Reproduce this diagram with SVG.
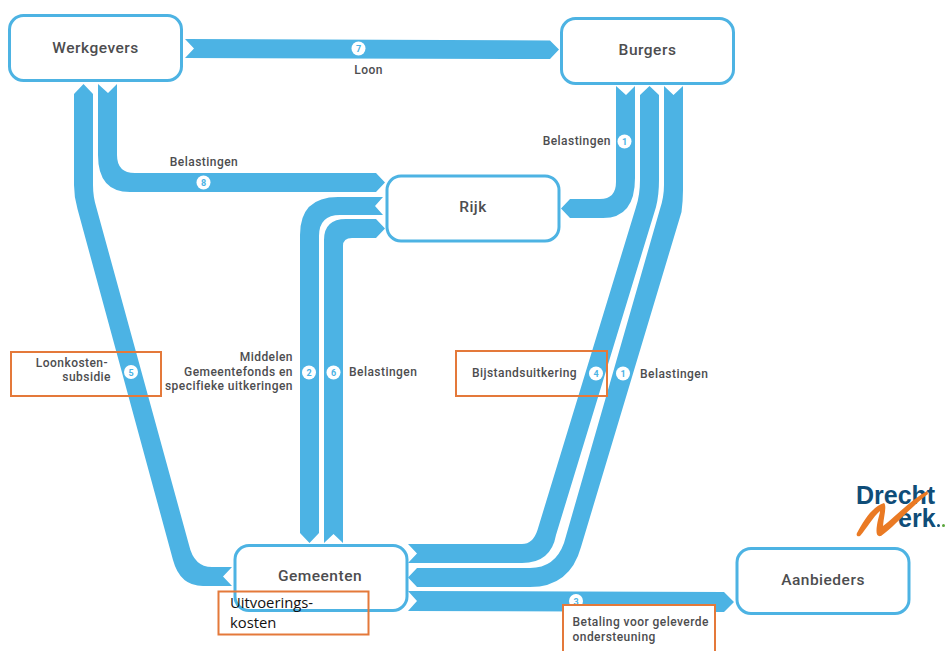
<svg xmlns="http://www.w3.org/2000/svg" width="946" height="651" viewBox="0 0 946 651">
<style>
.box{fill:#fff;stroke:#4db3e3;stroke-width:3}
.flow{fill:#4cb3e4}
.t{font-family:"Roboto","Liberation Sans",sans-serif;font-weight:500;fill:#4d4d4f}
.n{font-size:15.5px;text-anchor:middle;letter-spacing:.5px}
.l{font-size:12px;letter-spacing:.45px}
.e{text-anchor:end}
.bc{fill:#fff}
.bt{font-family:"Roboto","Liberation Sans",sans-serif;font-weight:700;font-size:9px;fill:#4cb3e4;text-anchor:middle}
.o{fill:none;stroke:#e4793a;stroke-width:2}
.lg{font-family:"Liberation Sans",sans-serif;font-weight:700;font-size:25px;fill:#0f4d78}
.u{font-family:"Open Sans","Liberation Sans",sans-serif;font-size:14.8px;fill:#111}
</style>
<rect width="946" height="651" fill="#fff"/>
<g id="connectors">
<path class="flow" d="M185 39L550 40.500L559 49.500L550 59L185 58L194 48.500Z"/>
<path class="flow" d="M98 84L108 93L117 84V155Q117 173 135 173H376L385 182.500L376 192H130Q98 192 98 155Z"/>
<path class="flow" d="M83.500 84L93 94V185Q93 197 96.500 208L189 545Q194 567 212 567H232L223 576.500L232 586H203Q180 586 173 560L77.500 209Q74 197 74 185V94Z"/>
<path class="flow" d="M300 533V235Q300 197 338 197H383L375 206L383 215H340Q319 215 319 236V533L309.500 543Z"/>
<path class="flow" d="M324 543V240Q324 219 346 219H376L385 228.500L376 238H352Q343 238 343 246V543L333.500 534Z"/>
<path class="flow" d="M616 86L626 95L635 86V178Q635 218 603 218H570L561 208.500L570 199H600Q616 199 616 182Z"/>
<path class="flow" d="M649.500 86L659 95V180Q659 195 656 207L556 535Q551 563 522 563H408L417 553.500L408 544H522Q533 544 537.500 530L636 207Q640 195 640 180V95Z"/>
<path class="flow" d="M664 86L673.500 95L683 86V190Q683 200 681.500 212L581 547Q570 587 530 587H417L408 577.500L417 568H530Q555 568 564 543L660 209Q664 197 664 185Z"/>
<path class="flow" d="M408 591L724 592L734 602L724 612L408 611L417 601Z"/>
</g>
<g id="werkgevers"><rect class="box" x="9.500" y="15.500" width="172" height="65" rx="14"/><text class="t n" x="95.500" y="53">Werkgevers</text></g>
<g id="burgers"><rect class="box" x="561.500" y="18.500" width="172" height="65" rx="14"/><text class="t n" x="647.500" y="55">Burgers</text></g>
<g id="rijk"><rect class="box" x="387" y="176" width="172" height="65" rx="14"/><text class="t n" x="473" y="212">Rijk</text></g>
<g id="gemeenten"><rect class="box" x="235" y="545.500" width="172" height="65" rx="14"/><text class="t n" x="320" y="581">Gemeenten</text></g>
<g id="aanbieders"><rect class="box" x="737" y="548.500" width="172" height="65" rx="14"/><text class="t n" x="823" y="585">Aanbieders</text></g>
<g id="labels">
<text class="t l" x="368.500" y="74" text-anchor="middle">Loon</text>
<text class="t l" x="204" y="166" text-anchor="middle">Belastingen</text>
<text class="t l e" x="611" y="145">Belastingen</text>
<text class="t l e" x="293" y="361">Middelen</text>
<text class="t l e" x="293" y="376">Gemeentefonds en</text>
<text class="t l e" x="293" y="390">specifieke uitkeringen</text>
<text class="t l" x="349" y="376">Belastingen</text>
<text class="t l" x="640" y="378">Belastingen</text>
</g>
<g id="badges">
<circle class="bc" cx="358.500" cy="48.500" r="7"/><text class="bt" x="358.500" y="52">7</text>
<circle class="bc" cx="203.500" cy="182.500" r="7"/><text class="bt" x="203.500" y="186">8</text>
<circle class="bc" cx="624.500" cy="141.500" r="7"/><text class="bt" x="624.500" y="145">1</text>
<circle class="bc" cx="131" cy="372" r="7"/><text class="bt" x="131" y="375.500">5</text>
<circle class="bc" cx="309" cy="372.500" r="7"/><text class="bt" x="309" y="376">2</text>
<circle class="bc" cx="333.500" cy="372.500" r="7"/><text class="bt" x="333.500" y="376">6</text>
<circle class="bc" cx="596" cy="373.500" r="7"/><text class="bt" x="596" y="377">4</text>
<circle class="bc" cx="623" cy="373.500" r="7"/><text class="bt" x="623" y="377">1</text>
<circle class="bc" cx="576" cy="601" r="7"/><text class="bt" x="576" y="604.500">3</text>
</g>
<g id="annotations">
<rect class="o" x="11" y="352" width="150" height="44"/>
<text class="t l e" x="108" y="367">Loonkosten-</text>
<text class="t l e" x="111" y="381">subsidie</text>
<rect class="o" x="456" y="351" width="151" height="45"/>
<text class="t l" x="472" y="377">Bijstandsuitkering</text>
<rect class="o" x="218.500" y="591.500" width="150" height="43"/>
<text class="u" x="230" y="608">Uitvoerings-</text>
<text class="u" x="230" y="628">kosten</text>
<rect x="563" y="605" width="152" height="50" fill="#fff" stroke="#e4793a" stroke-width="2"/>
<text class="t l" x="572.500" y="626">Betaling voor geleverde</text>
<text class="t l" x="572.500" y="641">ondersteuning</text>
</g>
<g id="logo">
<text class="lg" x="856" y="504">Drecht</text>
<text class="lg" x="898" y="527">erk</text>
<circle cx="938.500" cy="525.500" r="1.500" fill="#0f4d78"/><circle cx="943.500" cy="525.500" r="1.500" fill="#5aa63c"/>
<path d="M857 533C864 520 872 507 884 503C887 506 884 515 883 526C892 520 908 502 927 491L928 494C912 506 895 526 881 536C876 537 876 532 877 525C878 519 880 513 880 511C873 517 867 528 860 536C857 537 856 535 857 533Z" fill="#ea7a24"/>
</g>
</svg>
